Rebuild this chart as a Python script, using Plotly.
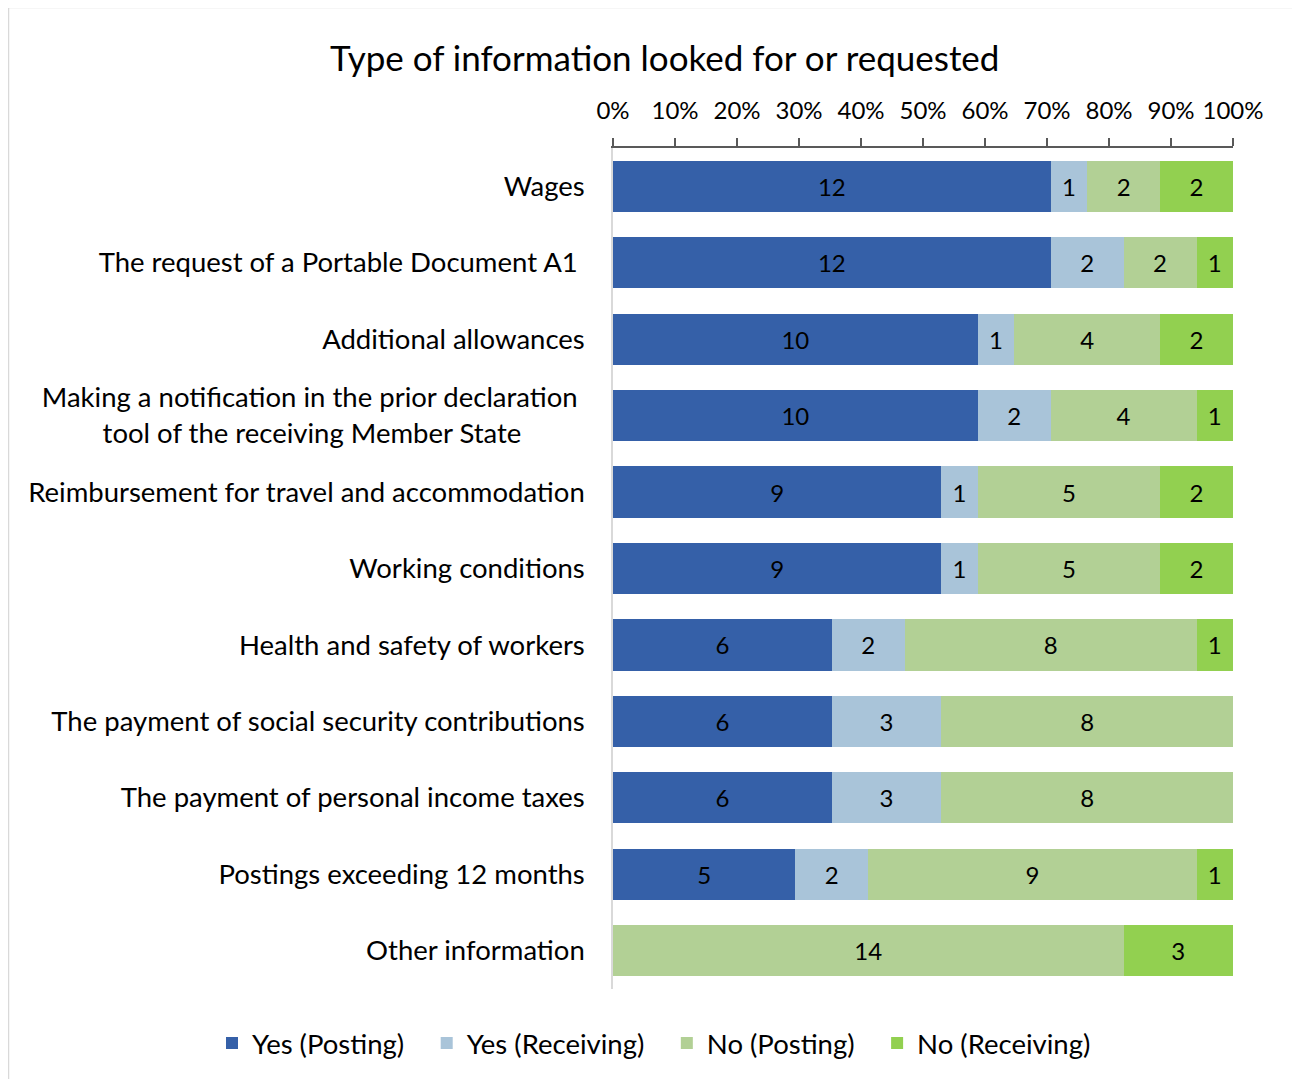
import plotly.graph_objects as go

NB = "\u00a0"
categories = [
    "Wages",
    "The request of a Portable Document A1" + NB,
    "Additional allowances",
    "Making a notification in the prior declaration" + NB + "<br>tool of the receiving Member State" + NB * 9,
    "Reimbursement for travel and accommodation",
    "Working conditions",
    "Health and safety of workers",
    "The payment of social security contributions",
    "The payment of personal income taxes",
    "Postings exceeding 12 months",
    "Other information",
]
yes_posting = [12, 12, 10, 10, 9, 9, 6, 6, 6, 5, 0]
yes_receiving = [1, 2, 1, 2, 1, 1, 2, 3, 3, 2, 0]
no_posting = [2, 2, 4, 4, 5, 5, 8, 8, 8, 9, 14]
no_receiving = [2, 1, 2, 1, 2, 2, 1, 0, 0, 1, 3]

series = [
    ("Yes (Posting)", yes_posting, "#3560A8"),
    ("Yes (Receiving)", yes_receiving, "#A9C4D9"),
    ("No (Posting)", no_posting, "#B2D095"),
    ("No (Receiving)", no_receiving, "#92D050"),
]
tick_values = list(range(0, 101, 10))
tick_text = [f"{v}%" for v in tick_values]

FONT = "Lato, Calibri, sans-serif"

fig = go.Figure()
for name, vals, color in series:
    fig.add_trace(go.Bar(
        y=categories, x=vals, name=name + NB * 2 + "\u2009", orientation="h",
        marker=dict(color=color, line=dict(width=0)),
        text=[str(v) if v else "" for v in vals],
        textposition="inside", insidetextanchor="middle", textangle=0,
        textfont=dict(color="#000000", size=24, family=FONT),
        hoverinfo="x+y+name",
    ))

# page body has an 8px margin: work in reference pixels, shift by OFF
OFF = 8
W, H = 1300 - OFF, 1079 - OFF
L, R, T, B = 613 - OFF, 1233 - OFF, 148 - OFF, 989 - OFF
pw, ph = R - L, B - T

def px_x(p):
    return (p - OFF - L) / pw

def px_y(p):
    return (B - (p - OFF)) / ph

fig.update_layout(
    width=W, height=H,
    barmode="stack", barnorm="percent", bargap=0.33,
    margin=dict(l=L, r=W - R, t=T, b=H - B, autoexpand=False),
    paper_bgcolor="white", plot_bgcolor="white",
    font=dict(family=FONT, size=27.5, color="#000000"),
    showlegend=True,
    legend=dict(orientation="h", x=px_x(212), xanchor="left", y=px_y(1043), yanchor="middle",
                font=dict(size=27.5, family=FONT), traceorder="normal", itemwidth=30,
                bgcolor="rgba(0,0,0,0)"),
    xaxis=dict(side="top", range=[0, 100], tickvals=tick_values, ticktext=tick_text,
               showgrid=False, zeroline=False, showline=True, linecolor="#595959", linewidth=1.5,
               ticks="outside", ticklen=8, tickcolor="#595959", tickwidth=1.5,
               ticklabelstandoff=10, tickfont=dict(size=24, family=FONT), fixedrange=True),
    yaxis=dict(autorange="reversed", showgrid=False, zeroline=False, showline=True,
               linecolor="#D9D9D9", linewidth=1.5, ticks="", ticklabelstandoff=21,
               tickfont=dict(size=27.5, family=FONT), fixedrange=True),
    annotations=[dict(text="Type of information looked for or requested", xref="paper", yref="paper",
                      x=px_x(664), y=px_y(57), xanchor="center", yanchor="middle", showarrow=False,
                      font=dict(size=35, family=FONT, color="#000000"))],
    shapes=[dict(type="rect", xref="paper", yref="paper",
                 x0=px_x(8.5), x1=px_x(1295), y0=px_y(1100), y1=px_y(7.5),
                 line=dict(color="#D9D9D9", width=1.5), fillcolor="rgba(0,0,0,0)", layer="below")],
)

fig.write_html("out.html")
